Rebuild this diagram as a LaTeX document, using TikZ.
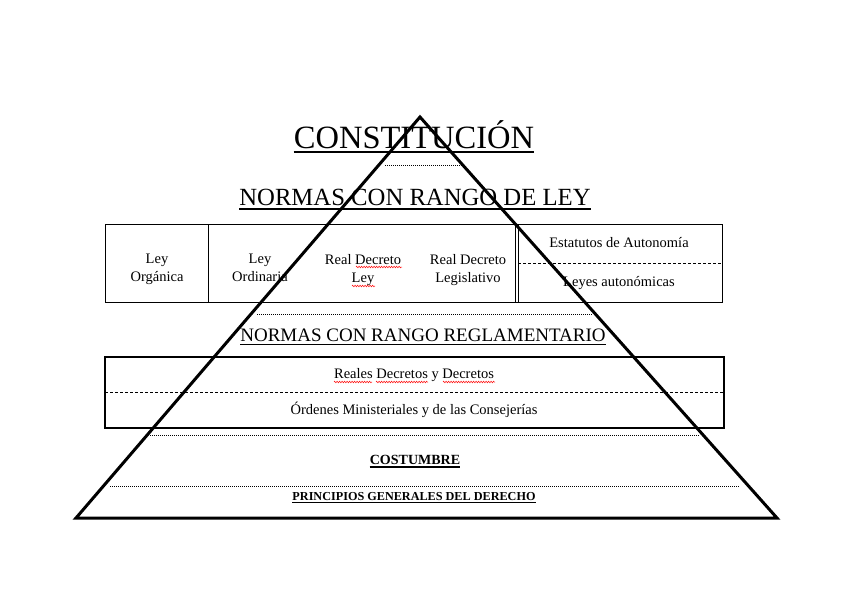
\documentclass[tikz,border=0pt]{standalone}
\usepackage{fontspec}
\setmainfont{Liberation Serif}
\usetikzlibrary{decorations.pathmorphing}
\begin{document}
\begin{tikzpicture}[x=1pt,y=-1pt,
  title/.style={inner sep=0pt,anchor=base},
  cell/.style={inner sep=0pt,anchor=base,align=center,font=\fontsize{14.5}{18}\selectfont},
  uline/.style={line width=1.2pt},
  dotline/.style={line width=1pt,dash pattern=on 1pt off 1pt},
  dashline/.style={line width=0.6pt,dash pattern=on 3pt off 2pt},
  squig/.style={red,line width=0.5pt,decorate,decoration={zigzag,amplitude=0.8pt,segment length=2.5pt}},
  pyr/.style={line width=3pt,line join=miter}]
\useasboundingbox (0,0) rectangle (848,600);
\fill[white] (0,0) rectangle (848,600);

% titles
\node[title,font=\fontsize{32.5}{36}\selectfont] (cons) at (414,148) {CONSTITUCIÓN};
\draw[uline] ([yshift=-4pt]cons.base west) -- ([yshift=-4pt]cons.base east);
\draw[dotline] (385,165) -- (462,165);

\node[title,font=\fontsize{24.7}{28}\selectfont] (ley) at (415,205) {NORMAS CON RANGO DE LEY};
\draw[uline] ([yshift=-4pt]ley.base west) -- ([yshift=-4pt]ley.base east);

% table 1
\draw[line width=0.8pt] (105,224) rectangle (722,302);
\draw[line width=0.8pt] (208,224) -- (208,302);
\draw[line width=0.8pt] (515,224) -- (515,302);
\draw[line width=0.8pt] (518,224) -- (518,302);
\draw[dashline] (518,263) -- (722,263);
\node[cell] (lo) at (157,281) {Ley\\Orgánica};
\node[cell] (lord) at (260,281) {Ley\\Ordinaria};
\node[cell] (rdl) at (363,282) {Real Decreto\\Ley};
\node[cell] (rdleg) at (468,282) {Real Decreto\\Legislativo};
\node[cell] (est) at (619,247) {Estatutos de Autonomía};
\node[cell] (lauto) at (619,286) {Leyes autonómicas};
\draw[squig] (356,267) -- (402,267);
\draw[squig] (352,286) -- (375,286);

\draw[dotline] (257,314) -- (592,314);

\node[title,font=\fontsize{19}{22}\selectfont] (regl) at (423,341) {NORMAS CON RANGO REGLAMENTARIO};
\draw[uline] ([yshift=-3.5pt]regl.base west) -- ([yshift=-3.5pt]regl.base east);

% table 2
\draw[line width=1.5pt] (105,357) rectangle (724,428);
\draw[dashline] (105,392) -- (724,392);
\node[cell] (rd) at (414,378) {Reales Decretos y Decretos};
\node[cell] (om) at (414,414) {Órdenes Ministeriales y de las Consejerías};
\draw[squig] (334,382) -- (372,382);
\draw[squig] (376,382) -- (428,382);
\draw[squig] (443,382) -- (495,382);

\draw[dotline] (150,435) -- (700,435);
\node[title,font=\bfseries\fontsize{14}{16}\selectfont] (cost) at (415,464) {COSTUMBRE};
\draw[uline] ([yshift=-3pt]cost.base west) -- ([yshift=-3pt]cost.base east);
\draw[dotline] (110,486) -- (740,486);
\node[title,font=\bfseries\fontsize{12.2}{14}\selectfont] (pgd) at (414,500) {PRINCIPIOS GENERALES DEL DERECHO};
\draw[line width=0.8pt] ([yshift=-2.5pt]pgd.base west) -- ([yshift=-2.5pt]pgd.base east);

% pyramid
\coordinate (apex) at (420,117);
\coordinate (bl) at (76,518);
\coordinate (br) at (777,518);
\draw[pyr] (apex) -- (bl) -- (br) -- cycle;
\end{tikzpicture}
\end{document}
